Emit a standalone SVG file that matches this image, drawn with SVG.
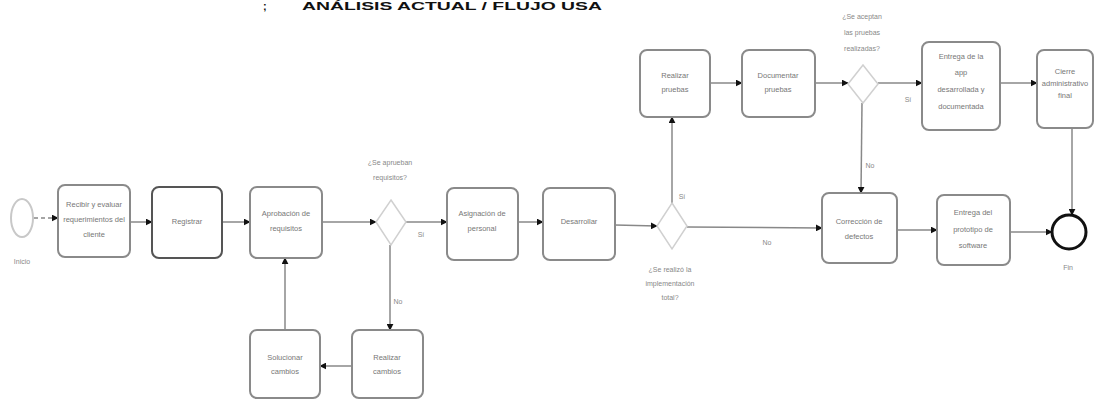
<svg xmlns="http://www.w3.org/2000/svg" width="1096" height="400" viewBox="0 0 1096 400">
<style>
.task{fill:#fff;stroke:#8a8a8a;stroke-width:2}
.gw{fill:#fff;stroke:#d0d0d0;stroke-width:1.5}
.t{font-family:"Liberation Sans",Arial,sans-serif;font-size:7.5px;fill:#777;text-anchor:middle}
.lbl{font-family:"Liberation Sans",Arial,sans-serif;font-size:7px;fill:#888;text-anchor:middle}
.c{fill:none;stroke:#888;stroke-width:1.5;marker-end:url(#ah)}
.h{font-family:"Liberation Sans",Arial,sans-serif;font-size:11px;font-weight:bold;fill:#111}
</style>
<defs>
<marker id="ah" viewBox="0 0 10 10" refX="9" refY="5" markerWidth="7" markerHeight="7" orient="auto" markerUnits="userSpaceOnUse"><path d="M0,0 L10,5 L0,10 z" fill="#111"/></marker>
</defs>
<rect width="1096" height="400" fill="#fff"/>
<g id="header">
<text class="h" x="263" y="10">;</text>
<text class="h" x="302" y="10" textLength="300" lengthAdjust="spacingAndGlyphs">ANÁLISIS ACTUAL / FLUJO USA</text>
</g>
<g id="connectors">
<line class="c" x1="34" y1="218" x2="58" y2="218" stroke-dasharray="4 3"/>
<line class="c" x1="130" y1="222" x2="152" y2="222"/>
<line class="c" x1="222" y1="222" x2="250" y2="222"/>
<line class="c" x1="322" y1="222" x2="376" y2="222"/>
<line class="c" x1="406" y1="222" x2="447" y2="222"/>
<text class="lbl" x="421" y="237">Sí</text>
<line class="c" x1="390" y1="245" x2="390" y2="330"/>
<text class="lbl" x="398" y="304">No</text>
<line class="c" x1="352" y1="366" x2="320" y2="366"/>
<line class="c" x1="285" y1="330" x2="285" y2="258"/>
<line class="c" x1="518" y1="222" x2="543" y2="222"/>
<line class="c" x1="615" y1="225" x2="657" y2="226"/>
<line class="c" x1="687" y1="227" x2="822" y2="228"/>
<text class="lbl" x="767" y="245">No</text>
<line class="c" x1="672" y1="203" x2="672" y2="117"/>
<text class="lbl" x="682" y="199">Sí</text>
<line class="c" x1="710" y1="83" x2="742" y2="83"/>
<line class="c" x1="815" y1="83" x2="848" y2="83"/>
<line class="c" x1="878" y1="83" x2="922" y2="83"/>
<text class="lbl" x="908" y="102">Sí</text>
<line class="c" x1="862" y1="103" x2="861" y2="193"/>
<text class="lbl" x="870" y="168">No</text>
<line class="c" x1="1000" y1="83" x2="1037" y2="83"/>
<line class="c" x1="1072" y1="128" x2="1072" y2="215"/>
<line class="c" x1="897" y1="230" x2="937" y2="230"/>
<line class="c" x1="1010" y1="232" x2="1052" y2="232"/>
</g>
<g id="start">
<ellipse cx="22" cy="218" rx="11" ry="19" fill="#fff" stroke="#c8c8c8" stroke-width="2"/>
<text class="lbl" x="22" y="264">Inicio</text>
</g>
<g id="task1">
<rect class="task" x="58" y="185" width="72" height="72" rx="7"/>
<text class="t" x="94" y="207">Recibir y evaluar</text>
<text class="t" x="94" y="222">requerimientos del</text>
<text class="t" x="94" y="237">cliente</text>
</g>
<g id="task2">
<rect class="task" x="152" y="187" width="70" height="71" rx="7" style="stroke:#555"/>
<text class="t" x="187" y="224">Registrar</text>
</g>
<g id="task3">
<rect class="task" x="250" y="187" width="72" height="71" rx="7"/>
<text class="t" x="286" y="216">Aprobación de</text>
<text class="t" x="286" y="231">requisitos</text>
</g>
<g id="gateway1">
<polygon class="gw" points="391,200 406,222 391,245 376,222"/>
<text class="lbl" x="390" y="165">¿Se aprueban</text>
<text class="lbl" x="390" y="180">requisitos?</text>
</g>
<g id="task-solucionar">
<rect class="task" x="250" y="330" width="70" height="68" rx="7"/>
<text class="t" x="285" y="360">Solucionar</text>
<text class="t" x="285" y="374">cambios</text>
</g>
<g id="task-realizar-cambios">
<rect class="task" x="352" y="330" width="71" height="68" rx="7"/>
<text class="t" x="387" y="360">Realizar</text>
<text class="t" x="387" y="374">cambios</text>
</g>
<g id="task4">
<rect class="task" x="447" y="188" width="71" height="72" rx="7"/>
<text class="t" x="482" y="216">Asignación de</text>
<text class="t" x="482" y="231">personal</text>
</g>
<g id="task5">
<rect class="task" x="543" y="188" width="72" height="72" rx="7"/>
<text class="t" x="579" y="224">Desarrollar</text>
</g>
<g id="gateway2">
<polygon class="gw" points="672,203 687,226 672,249 657,226"/>
<text class="lbl" x="670" y="272">¿Se realizó la</text>
<text class="lbl" x="670" y="286">implementación</text>
<text class="lbl" x="670" y="300">total?</text>
</g>
<g id="taskA">
<rect class="task" x="640" y="50" width="70" height="67" rx="7"/>
<text class="t" x="675" y="78">Realizar</text>
<text class="t" x="675" y="92">pruebas</text>
</g>
<g id="taskB">
<rect class="task" x="742" y="50" width="73" height="67" rx="7"/>
<text class="t" x="778" y="78">Documentar</text>
<text class="t" x="778" y="92">pruebas</text>
</g>
<g id="gateway3">
<polygon class="gw" points="863,65 878,84 863,103 848,84"/>
<text class="lbl" x="862" y="19">¿Se aceptan</text>
<text class="lbl" x="862" y="35">las pruebas</text>
<text class="lbl" x="862" y="51">realizadas?</text>
</g>
<g id="taskC">
<rect class="task" x="922" y="42" width="78" height="88" rx="7"/>
<text class="t" x="961" y="59">Entrega de la</text>
<text class="t" x="961" y="75">app</text>
<text class="t" x="961" y="92">desarrollada y</text>
<text class="t" x="961" y="109">documentada</text>
</g>
<g id="taskD">
<rect class="task" x="1037" y="50" width="56" height="78" rx="7"/>
<text class="t" x="1065" y="74">Cierre</text>
<text class="t" x="1065" y="86">administrativo</text>
<text class="t" x="1065" y="98">final</text>
</g>
<g id="taskE">
<rect class="task" x="822" y="193" width="75" height="70" rx="7"/>
<text class="t" x="859" y="224">Corrección de</text>
<text class="t" x="859" y="239">defectos</text>
</g>
<g id="taskF">
<rect class="task" x="937" y="195" width="73" height="70" rx="7"/>
<text class="t" x="973" y="215">Entrega del</text>
<text class="t" x="973" y="232">prototipo de</text>
<text class="t" x="973" y="248">software</text>
</g>
<g id="end">
<circle cx="1069" cy="232" r="17" fill="#fff" stroke="#111" stroke-width="3"/>
<text class="lbl" x="1068" y="270">Fin</text>
</g>
</svg>
